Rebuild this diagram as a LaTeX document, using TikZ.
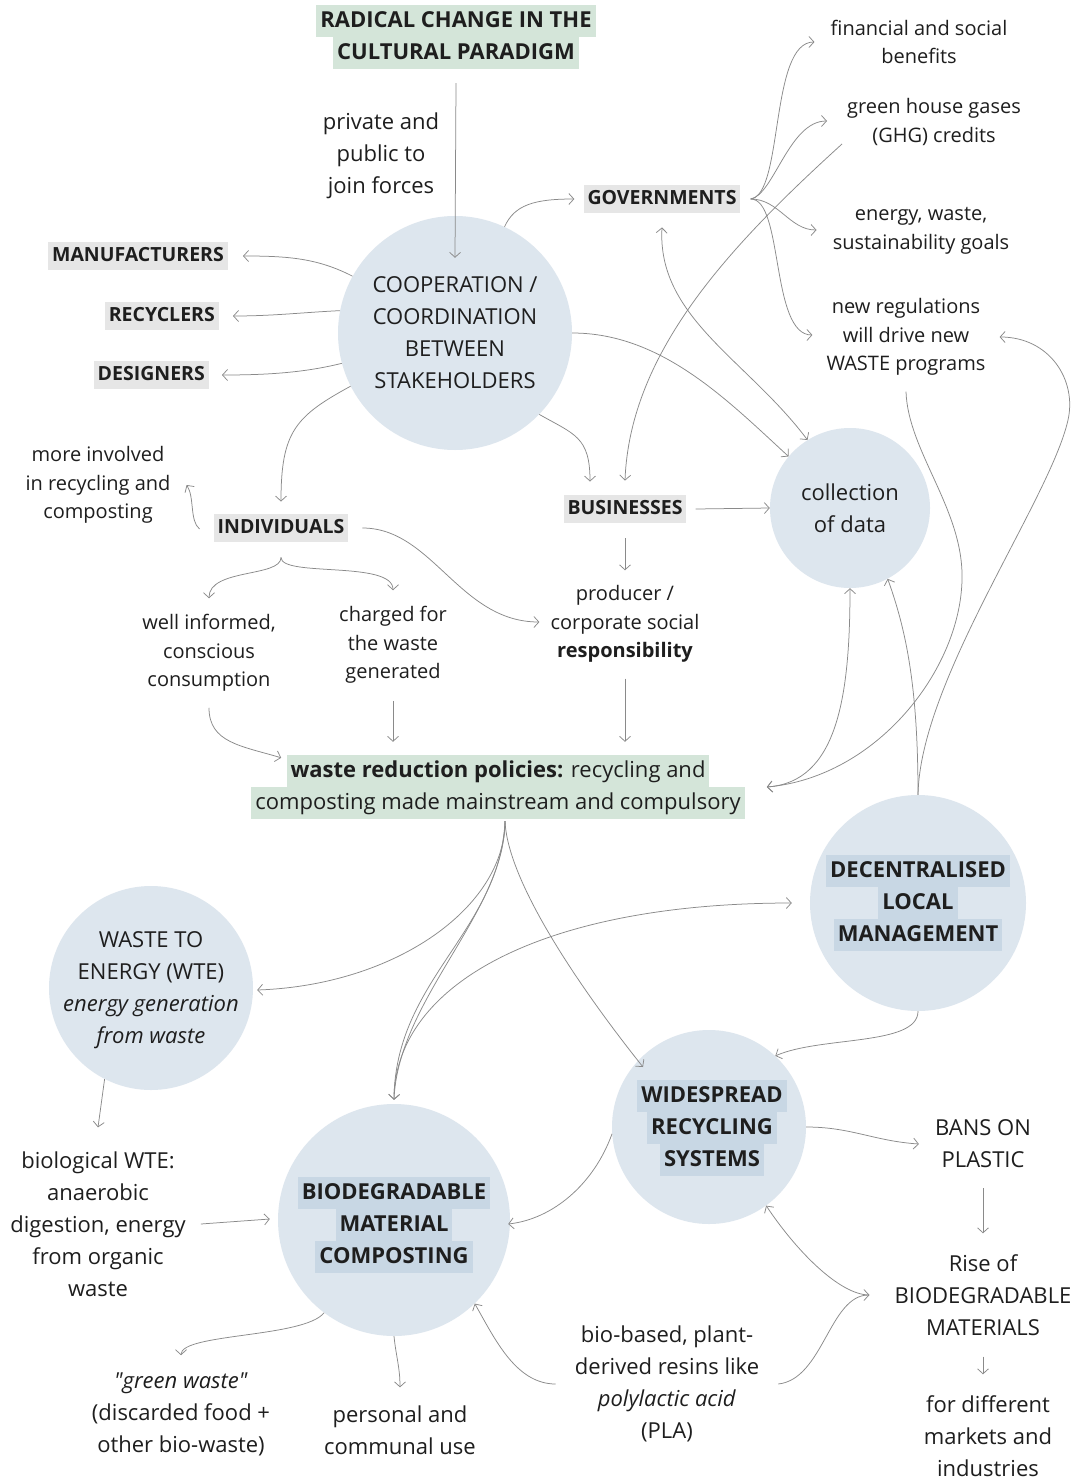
\documentclass[tikz,border=0pt]{standalone}
\usepackage{fontspec}
\setmainfont{Open Sans}
\usetikzlibrary{arrows.meta,calc}

\definecolor{ink}{HTML}{1E1E1E}
\definecolor{wire}{HTML}{8A8A8A}
\definecolor{bubble}{HTML}{DDE6EE}
\definecolor{hlblue}{HTML}{C8D7E4}
\definecolor{hlgreen}{HTML}{D4E5D9}
\definecolor{hlgray}{HTML}{E6E6E6}

\newcommand\markgreen[1]{{\setlength\fboxsep{0pt}\colorbox{hlgreen}{\strut\hspace{4pt}#1\hspace{4pt}}}}
\newcommand\markgray[1]{{\setlength\fboxsep{0pt}\colorbox{hlgray}{\strut\hspace{4pt}#1\hspace{4pt}}}}
\newcommand\markblue[1]{{\setlength\fboxsep{0pt}\colorbox{hlblue}{\strut\hspace{4pt}#1\hspace{4pt}}}}

\begin{document}
\begin{tikzpicture}[x=1pt, y=-1pt,
  every node/.style={inner sep=0pt, align=center, text=ink, font=\fontsize{22}{32}\selectfont},
  small/.style={font=\fontsize{20}{28.5}\selectfont},
  tag/.style={font=\fontsize{19.5}{28.5}\selectfont},
  bubble/.style={circle, fill=bubble, inner sep=0pt},
  link/.style={draw=wire, line width=0.75pt, -{Straight Barb[length=5pt,width=11pt]}},
  twoway/.style={link, {Straight Barb[length=5pt,width=11pt]}-{Straight Barb[length=5pt,width=11pt]}},
]
\fill[white] (0,0) rectangle (1079,1479);
\useasboundingbox (0,0) rectangle (1079,1479);

% stakeholders
\node (radical) at (456,37) {\markgreen{\textbf{RADICAL CHANGE IN THE}}\\\markgreen{\textbf{CULTURAL PARADIGM}}};
\node (forces) at (381,156) {private and\\public to\\join forces};

\node[bubble, minimum size=234pt] (coop) at (455,333) {};
\node (coop-text) at (coop) {COOPERATION /\\COORDINATION\\BETWEEN\\STAKEHOLDERS};

\node[tag] (gov) at (662,199) {\markgray{\textbf{GOVERNMENTS}}};
\node[tag, anchor=east] (manu) at (228,256) {\markgray{\textbf{MANUFACTURERS}}};
\node[tag, anchor=east] (recyc) at (219,316) {\markgray{\textbf{RECYCLERS}}};
\node[tag, anchor=east] (design) at (209,375) {\markgray{\textbf{DESIGNERS}}};

\node[small] (benefits) at (919,42) {financial and social\\benefits};
\node[small] (ghg) at (934,122) {green house gases\\(GHG) credits};
\node[small] (goals) at (921,231) {energy, waste,\\sustainability goals};
\node[small] (regs) at (906,337) {new regulations\\will drive new\\WASTE programs};

\node[bubble, minimum size=160pt] (data) at (850,508) {};
\node (data-text) at (data) {collection\\of data};

\node[tag] (biz) at (625,509) {\markgray{\textbf{BUSINESSES}}};
\node[tag] (indiv) at (281,528) {\markgray{\textbf{INDIVIDUALS}}};
\node[small] (involved) at (98,485) {more involved\\in recycling and\\composting};
\node[small] (informed) at (209,653) {well informed,\\conscious\\consumption};
\node[small] (charged) at (393,645) {charged for\\the waste\\generated};
\node[small] (csr) at (625,624) {producer /\\corporate social\\\textbf{responsibility}};

\node (policy) at (498,787) {\markgreen{\textbf{waste reduction policies:} recycling and}\\\markgreen{composting made mainstream and compulsory}};

% outcomes
\node[bubble, minimum size=216pt] (local) at (918,903) {};
\node (local-text) at (local) {\markblue{\textbf{DECENTRALISED}}\\\markblue{\textbf{LOCAL}}\\\markblue{\textbf{MANAGEMENT}}};

\node[bubble, minimum size=204pt] (wte) at (151,988) {};
\node (wte-text) at (151,990) {WASTE TO\\ENERGY (WTE)\\\textit{energy generation}\\\textit{from waste}};
\node (biowte) at (98,1224) {biological WTE:\\anaerobic\\digestion, energy\\from organic\\waste};

\node[bubble, minimum size=194pt] (recycling) at (709,1127) {};
\node (recycling-text) at (712,1128) {\markblue{\textbf{WIDESPREAD}}\\\markblue{\textbf{RECYCLING}}\\\markblue{\textbf{SYSTEMS}}};

\node[bubble, minimum size=232pt] (compost) at (394,1220) {};
\node (compost-text) at (394,1225) {\markblue{\textbf{BIODEGRADABLE}}\\\markblue{\textbf{MATERIAL}}\\\markblue{\textbf{COMPOSTING}}};

\node (bans) at (983,1144) {BANS ON\\PLASTIC};
\node (rise) at (983,1295) {Rise of\\BIODEGRADABLE\\MATERIALS};
\node (markets) at (988,1436) {for different\\markets and\\industries};
\node (greenwaste) at (181,1414) {\textit{\textquotedbl green waste\textquotedbl}\\(discarded food +\\other bio-waste)};
\node (personal) at (400,1430) {personal and\\communal use};
\node (pla) at (667,1384) {bio-based, plant-\\derived resins like\\\textit{polylactic acid}\\(PLA)};

% connectors, top half
\draw[link] ($(radical.south)+(0,14)$) -- ($(coop.north)+(0,42)$);
\draw[link] (coop.65) .. controls +(10,-22) and +(-40,0) .. ($(gov.west)+(-9,0)$);
\draw[link] (coop.151) .. controls +(-35,-18) and +(45,0) .. ($(manu.east)+(15,0)$);
\draw[link] (coop.169) .. controls +(-40,2) and +(40,0) .. ($(recyc.east)+(14,0)$);
\draw[link] (coop.195) .. controls +(-40,10) and +(40,0) .. ($(design.east)+(13,0)$);
\draw[link] (coop.207) .. controls +(-55,30) and +(0,-70) .. ($(indiv.north)+(0,-12)$);
\draw[link] (coop.-44) .. controls +(35,20) and +(0,-45) .. ($(biz.north)+(-35,-13)$);
\draw[link] (coop.east) .. controls +(90,0) and +(-60,-55) .. (data.140);
\draw[twoway] ($(gov.south)+(0,14)$) .. controls +(-5,90) and +(-60,-80) .. (data.122);
\draw[link] ($(ghg.west)+(-5,22)$) .. controls +(-110,100) and +(5,-130) .. ($(biz.north)+(0,-14)$);

\coordinate (fan) at ($(gov.east)+(10,0)$);
\draw[link] (fan) .. controls +(33,-4) and +(-45,0) .. ($(benefits.west)+(-16,0)$);
\draw[link] (fan) .. controls +(23,-4) and +(-38,0) .. ($(ghg.west)+(-20,-1)$);
\draw[link] (fan) .. controls +(28,0) and +(-27,0) .. ($(goals.west)+(-16,-1)$);
\draw[link] (fan) .. controls +(33,0) and +(-42,0) .. ($(regs.west)+(-14,-2)$);

\draw[link] (local.north) .. controls +(2,-115) and +(-18,80) .. (1068,420) .. controls +(9,-40) and +(50,0) .. ($(regs.east)+(14,0)$);
\draw[link] (local.north) .. controls +(0,-110) and +(18,50) .. (data.-62);
\draw[link] ($(regs.south)+(0,16)$) .. controls +(2,60) and +(2,-70) .. (962,580) .. controls +(-2,90) and +(110,-10) .. ($(policy.east)+(22,0)$);
\draw[twoway] ($(policy.east)+(22,0)$) .. controls +(70,-5) and +(0,110) .. (data.south);
\draw[link] ($(biz.east)+(9,0)$) -- (data.west);
\draw[link] ($(biz.south)+(0,15)$) -- ($(csr.north)+(0,-15)$);

\draw[link] ($(indiv.west)+(-14,1)$) .. controls +(-10,-8) and +(8,12) .. ($(involved.east)+(16,0)$);
\coordinate (split) at ($(indiv.south)+(0,15)$);
\draw[link] (split) .. controls +(0,20) and +(0,-30) .. ($(informed.north)+(0,-16)$);
\draw[link] (split) .. controls +(0,20) and +(0,-30) .. ($(charged.north)+(0,-16)$);
\draw[link] ($(indiv.east)+(14,0)$) .. controls +(70,0) and +(-80,0) .. ($(csr.west)+(-11,-2)$);
\draw[link] ($(informed.south)+(0,16)$) .. controls +(0,35) and +(-40,-12) .. ($(policy.north west)+(30,3)$);
\draw[link] ($(charged.south)+(0,17)$) -- ($(charged.south |- policy.north)+(0,-13)$);
\draw[link] ($(csr.south)+(0,16)$) -- ($(csr.south |- policy.north)+(0,-13)$);

% connectors, bottom half
\coordinate (fork) at ($(policy.south)+(7,2)$);
\draw[link] (fork) .. controls +(0,85) and +(140,-5) .. ($(wte.east)+(4,2)$);
\draw[link] (fork) .. controls +(-5,110) and +(1,-120) .. ($(compost.north)+(0,-4)$);
\draw[link] (fork) .. controls +(0,90) and +(4,-100) .. ($(compost.north)+(0,-4)$);
\draw[link] ($(compost.north)+(0,-10)$) .. controls +(6,-115) and +(-240,0) .. ($(local.west)+(-18,0)$);
\draw[link] (fork) .. controls +(3,70) and +(-40,-50) .. ($(recycling.center)+(-66,-60)$);
\draw[link] (local.south) .. controls +(0,35) and +(45,-20) .. (recycling.47);
\draw[link] (recycling.184) .. controls +(-18,50) and +(45,-5) .. ($(compost.east)+(-2,4)$);
\draw[link] (recycling.east) .. controls +(45,0) and +(-45,-3) .. ($(bans.west)+(-16,0)$);
\draw[link] ($(bans.south)+(0,20)$) -- ($(rise.north)+(0,-21)$);
\draw[link] ($(rise.south)+(0,21)$) -- ($(rise.south |- markets.north)+(0,-21)$);
\draw[link] ($(pla.east)+(19,0)$) .. controls +(45,-5) and +(-40,0) .. ($(rise.west)+(-25,0)$);
\draw[link] ($(rise.west)+(-25,0)$) .. controls +(-30,0) and +(30,45) .. (recycling.-54);
\draw[link] ($(pla.west)+(-19,0)$) .. controls +(-40,0) and +(20,35) .. (compost.-46);
\draw[link] (compost.233) .. controls +(-20,25) and +(0,-22) .. ($(greenwaste.north)+(0,-17)$);
\draw[link] (compost.south) .. controls +(2,20) and +(0,-20) .. ($(personal.north)+(0,-18)$);
\draw[link] ($(biowte.east)+(15,0)$) -- ($(compost.west)+(-8,-1)$);
\draw[link] (wte.243) -- ($(biowte.north)+(0,-24)$);
\end{tikzpicture}
\end{document}
